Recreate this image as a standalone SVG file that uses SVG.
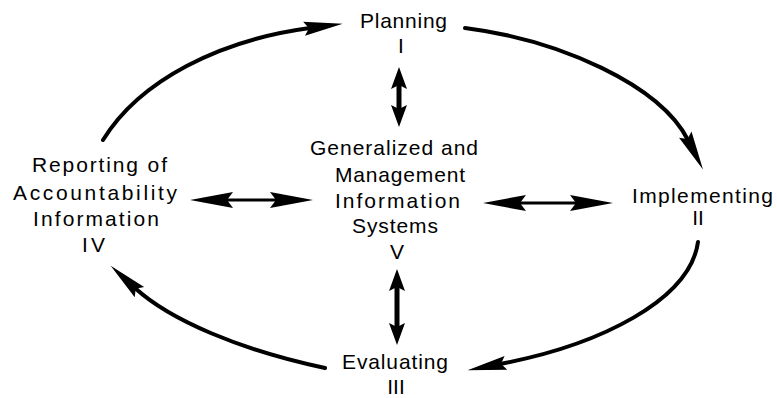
<svg xmlns="http://www.w3.org/2000/svg" width="777" height="398" viewBox="0 0 777 398">
<style>
.t{font-family:"Liberation Sans",Arial,Helvetica,sans-serif;font-size:21px;fill:#000}
.c{text-anchor:middle}
.arc{fill:none;stroke:#000;stroke-width:4;stroke-linecap:round}
.dbl{fill:none;stroke:#000;stroke-width:3}
.vdbl{fill:none;stroke:#000;stroke-width:5}
</style>
<defs>
<marker id="ah" markerUnits="userSpaceOnUse" viewBox="-4 -9 44 18" markerWidth="44" markerHeight="18" refX="3" refY="0" orient="auto">
<path d="M-3,-7 L36,0 L-3,7 L2,0 Z" fill="#000"/>
</marker>
<marker id="hh" markerUnits="userSpaceOnUse" viewBox="-4 -10 48 20" markerWidth="48" markerHeight="20" refX="6" refY="0" orient="auto-start-reverse">
<path d="M-2,-8 L41,0 L-2,8 L4,0 Z" fill="#000"/>
</marker>
<marker id="hv" markerUnits="userSpaceOnUse" viewBox="-4 -10 28 20" markerWidth="28" markerHeight="20" refX="3" refY="0" orient="auto-start-reverse">
<path d="M-2,-8 L20,0 L-2,8 L2,0 Z" fill="#000"/>
</marker>
</defs>
<rect width="777" height="398" fill="#fff"/>
<g id="connectors">
<path class="arc" d="M103,140 C140,80 220,40 310,28" marker-end="url(#ah)"/>
<path class="arc" d="M465,28 C560,40 660,85 688,140" marker-end="url(#ah)"/>
<path class="arc" d="M698,242 C690,300 600,345 500,364" marker-end="url(#ah)"/>
<path class="arc" d="M325,368 C240,350 170,320 135,288" marker-end="url(#ah)"/>
<path class="vdbl" d="M399,84 L399,110" marker-start="url(#hv)" marker-end="url(#hv)"/>
<path class="vdbl" d="M397,286 L397,328" marker-start="url(#hv)" marker-end="url(#hv)"/>
<path class="dbl" d="M225,200 L278,200" marker-start="url(#hh)" marker-end="url(#hh)"/>
<path class="dbl" d="M518,203 L578,203" marker-start="url(#hh)" marker-end="url(#hh)"/>
</g>
<g id="node-planning">
<text class="t" x="360" y="28" textLength="87" lengthAdjust="spacing">Planning</text>
<text class="t c" x="401" y="53">I</text>
</g>
<g id="node-implementing">
<text class="t" x="632" y="203" textLength="141" lengthAdjust="spacing">Implementing</text>
<text class="t c" x="698" y="225">II</text>
</g>
<g id="node-evaluating">
<text class="t" x="342" y="369" textLength="106" lengthAdjust="spacing">Evaluating</text>
<text class="t c" x="396" y="394">III</text>
</g>
<g id="node-reporting">
<text class="t" x="32" y="172" textLength="135" lengthAdjust="spacing">Reporting of</text>
<text class="t" x="13" y="200" textLength="164" lengthAdjust="spacing">Accountability</text>
<text class="t" x="33" y="226" textLength="126" lengthAdjust="spacing">Information</text>
<text class="t" x="82" y="252" textLength="23" lengthAdjust="spacing">IV</text>
</g>
<g id="node-systems">
<text class="t" x="310" y="155" textLength="168" lengthAdjust="spacing">Generalized and</text>
<text class="t" x="335" y="182" textLength="130" lengthAdjust="spacing">Management</text>
<text class="t" x="335" y="208" textLength="125" lengthAdjust="spacing">Information</text>
<text class="t" x="352" y="233" textLength="86" lengthAdjust="spacing">Systems</text>
<text class="t c" x="397" y="259">V</text>
</g>
</svg>
